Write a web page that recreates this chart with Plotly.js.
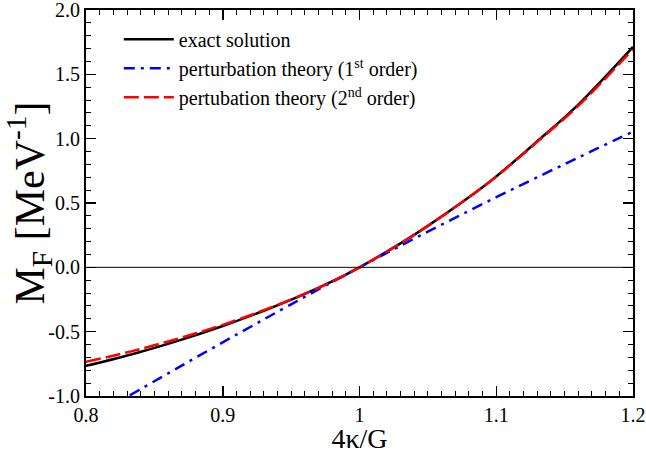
<!DOCTYPE html>
<html>
<head>
<meta charset="utf-8">
<script src="https://cdn.plot.ly/plotly-3.0.1.min.js"></script>
<style>html,body{margin:0;padding:0;background:#fff;}#chart{width:646px;height:454px;}</style>
</head>
<body>
<div id="chart"></div>
<script>
// exact solution
const exactX = [0.80, 0.833, 0.866, 0.90, 0.93, 0.955, 0.98, 1.0, 1.03, 1.05, 1.08, 1.10, 1.13, 1.16, 1.2];
const exactY = [-0.766, -0.677, -0.575, -0.456, -0.3375, -0.23, -0.11, 0.0, 0.186, 0.322, 0.544, 0.706, 0.98, 1.265, 1.713];
// perturbation theory, 1st order
const pt1X = [0.832, 0.87, 0.91, 0.95, 1.0, 1.05, 1.10, 1.15, 1.2];
const pt1Y = [-0.995, -0.7635, -0.5235, -0.2875, 0.0, 0.2775, 0.545, 0.8025, 1.055];
// perturbation theory, 2nd order
const pt2X = [0.80, 0.833, 0.866, 0.90, 0.93, 0.955, 0.98, 1.0, 1.03, 1.05, 1.08, 1.10, 1.13, 1.16, 1.2];
const pt2Y = [-0.735, -0.653, -0.558, -0.447, -0.333, -0.228, -0.11, 0.0, 0.186, 0.322, 0.544, 0.705, 0.975, 1.255, 1.695];
// axis ticks
const xTicks = [0.8, 0.9, 1.0, 1.1, 1.2];
const xTickLabels = ["0.8", "0.9", "1", "1.1", "1.2"];
const yTicks = [-1.0, -0.5, 0.0, 0.5, 1.0, 1.5, 2.0];
const yTickLabels = ["-1.0", "-0.5", "0.0", "0.5", "1.0", "1.5", "2.0"];

const serif = "'Liberation Serif', 'Times New Roman', Times, serif";

const traces = [
  {x: exactX, y: exactY, mode: 'lines', name: 'exact solution', legendgroup: 'a',
   line: {color: '#000000', width: 2.5, shape: 'spline'}},
  {x: pt1X, y: pt1Y, mode: 'lines', name: 'perturbation theory (1<sup>st</sup> order)', legendgroup: 'b',
   line: {color: '#0000ff', width: 2.5, dash: '11px,6px,3px,6px', shape: 'spline'}},
  {x: pt2X, y: pt2Y, mode: 'lines', name: 'pertubation theory (2<sup>nd</sup> order)', legendgroup: 'c',
   line: {color: '#ff0000', width: 2.5, dash: '15px,5px', shape: 'spline'}}
];

const axisCommon = {
  showline: true, linecolor: '#000', linewidth: 2, mirror: 'allticks',
  ticks: 'inside', ticklen: 10, tickwidth: 1.5, tickcolor: '#000',
  showgrid: false, zeroline: false, ticklabeloverflow: 'allow',
  tickfont: {family: serif, size: 20, color: '#000'}
};

const layout = {
  width: 646, height: 454,
  margin: {l: 86, r: 13, t: 10, b: 58},
  paper_bgcolor: '#fff', plot_bgcolor: '#fff',
  font: {family: serif, color: '#000'},
  showlegend: true,
  legend: {x: 0.06, y: 0.975, xanchor: 'left', yanchor: 'top', tracegroupgap: 0,
           itemwidth: 50,
           bgcolor: 'rgba(0,0,0,0)', borderwidth: 0,
           font: {family: serif, size: 20, color: '#000'}},
  xaxis: Object.assign({}, axisCommon, {
    range: [0.8, 1.2], tickvals: xTicks, ticktext: xTickLabels,
    minor: {dtick: 0.01, ticks: 'inside', ticklen: 5, tickwidth: 1, tickcolor: '#000'},
    title: {text: '4κ/G', font: {family: serif, size: 28, color: '#000'}, standoff: 7}
  }),
  yaxis: Object.assign({}, axisCommon, {
    range: [-1.0, 2.0], tickvals: yTicks, ticktext: yTickLabels,
    minor: {dtick: 0.1, ticks: 'inside', ticklen: 5, tickwidth: 1, tickcolor: '#000'},
    title: {text: 'M<sub>F</sub> [MeV<sup>-1</sup>]', font: {family: serif, size: 42, color: '#000'}, standoff: 4}
  }),
  shapes: [
    {type: 'line', xref: 'paper', x0: 0, x1: 1, yref: 'y', y0: 0, y1: 0,
     line: {color: '#000', width: 1}}
  ]
};

Plotly.newPlot('chart', traces, layout, {staticPlot: true, displayModeBar: false});
</script>
</body>
</html>
